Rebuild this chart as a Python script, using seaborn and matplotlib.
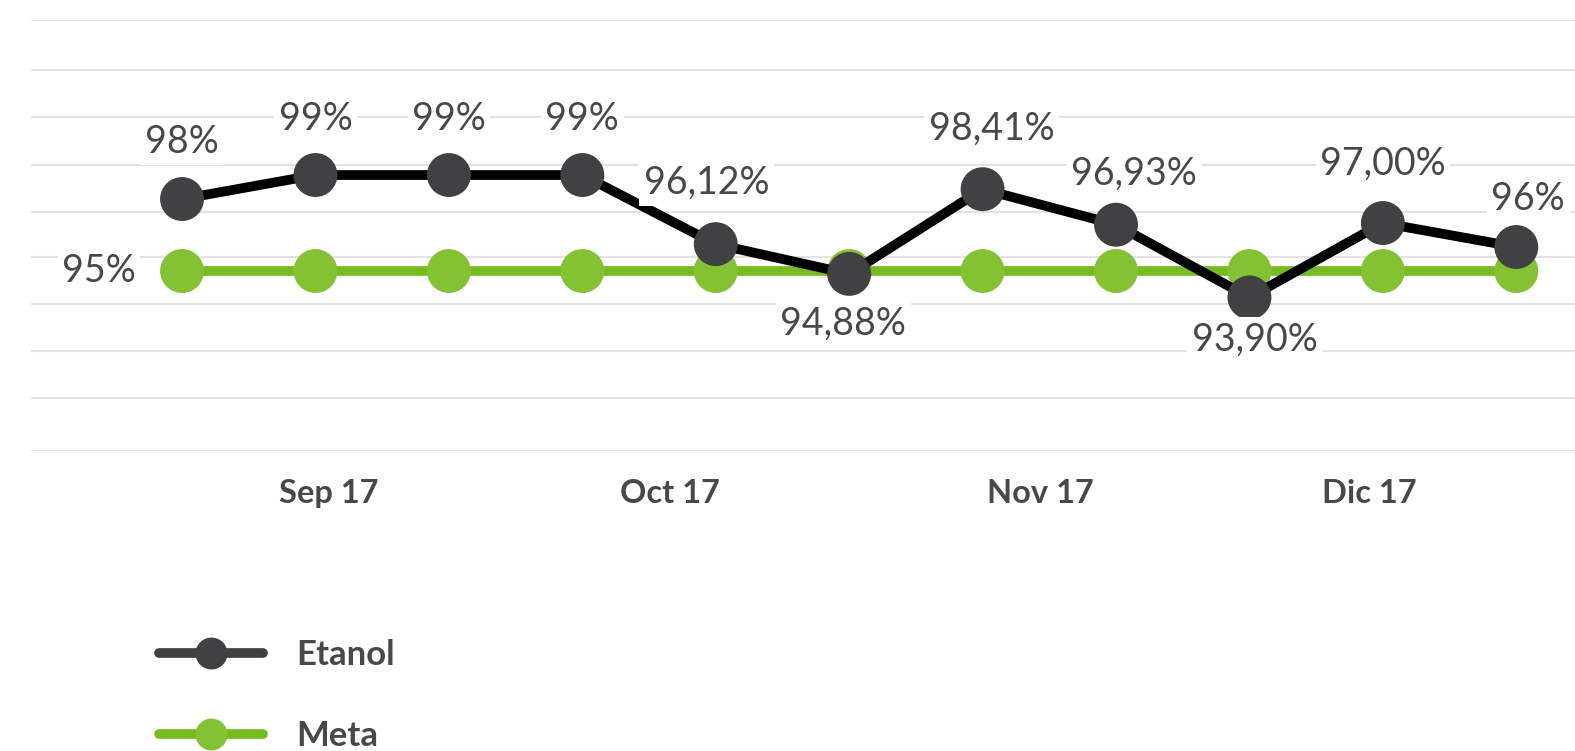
import pandas as pd
import matplotlib.pyplot as plt
import seaborn as sns
from matplotlib.lines import Line2D

# ----------------------------------------
# Data
# ----------------------------------------

periodos = list(range(11))
etanol = [98, 99, 99, 99, 96.12, 94.88, 98.41, 96.93, 93.90, 97.00, 96]
etiquetas_etanol = ["98%", "99%", "99%", "99%", "96,12%", "94,88%",
                    "98,41%", "96,93%", "93,90%", "97,00%", "96%"]
meta = [95, 95, 95, 95, 95, 95, 95, 95, 95, 95, 95]
etiqueta_meta = "95%"
meses = ["Sep 17", "Oct 17", "Nov 17", "Dic 17"]
pos_meses = [1.10, 3.66, 6.43, 8.90]
niveles_grid = [87.5, 89.71, 91.67, 93.63, 95.58, 97.46, 99.42, 101.42, 103.38, 105.46]

# label placement (pixels from the point)
desp_x = [0, 0, 0, 0, -9, -6, 9, 18, 5, 0, 12]
desp_y = [57, 56, 56, 56, 61, -50, 60, 51, -42, 59, 48]

df = pd.DataFrame({
    "periodo": periodos * 2,
    "valor": etanol + meta,
    "serie": ["Etanol"] * len(periodos) + ["Meta"] * len(periodos),
})

# ----------------------------------------
# Plot
# ----------------------------------------

sns.set_style("white")
plt.rcParams["font.family"] = ["Lato", "DejaVu Sans"]

gris = "#414143"
texto = "#48484a"
verde_linea = "#76bc21"
verde_punto = "#84c234"

fig = plt.figure(figsize=(15.75, 7.51), dpi=100)
ax = fig.add_axes([31 / 1575, 300 / 751, 1 - 31 / 1575, 431 / 751])

for y in niveles_grid:
    ax.axhline(y, color="#e2e2e2", lw=1.5, zorder=0)

meta_df = df[df["serie"] == "Meta"]
eta_df = df[df["serie"] == "Etanol"]

sns.lineplot(data=meta_df, x="periodo", y="valor", color=verde_linea, lw=7, ax=ax, zorder=2)
sns.scatterplot(data=meta_df, x="periodo", y="valor", color=verde_punto, s=1000,
                edgecolor="none", ax=ax, zorder=3)
sns.lineplot(data=eta_df, x="periodo", y="valor", color="black", lw=7, ax=ax, zorder=4)
sns.scatterplot(data=eta_df, x="periodo", y="valor", color=gris, s=1000,
                edgecolor="none", ax=ax, zorder=5)

caja = dict(boxstyle="square,pad=0.12", fc="white", ec="none")
for i, (x, y) in enumerate(zip(periodos, etanol)):
    ax.annotate(etiquetas_etanol[i], (x, y), xytext=(desp_x[i], desp_y[i]),
                textcoords="offset pixels", ha="center", va="center",
                fontsize=27, fontweight="normal", color=texto, bbox=caja, zorder=6)

ax.annotate(etiqueta_meta, (periodos[0], meta[0]), xytext=(-83, 0),
            textcoords="offset pixels", ha="center", va="center",
            fontsize=27, fontweight="normal", color=texto, bbox=caja, zorder=6)

ax.set_xlim(-1.132, 10.44)
ax.set_ylim(niveles_grid[0], niveles_grid[-1])
ax.set_xticks(pos_meses)
ax.set_xticklabels(meses, fontsize=23.5, fontweight="bold", color=texto)
ax.tick_params(axis="x", length=0, pad=20.5)
ax.set_yticks([])
ax.set_xlabel("")
ax.set_ylabel("")
sns.despine(ax=ax, left=True, bottom=True, top=True, right=True)

handles = [
    Line2D([], [], color=gris, lw=7, marker="o", markersize=23,
           markerfacecolor=gris, markeredgecolor="none", solid_capstyle="round"),
    Line2D([], [], color=verde_linea, lw=7, marker="o", markersize=23,
           markerfacecolor=verde_punto, markeredgecolor="none", solid_capstyle="round"),
]
leg = fig.legend(handles, ["Etanol", "Meta"], loc="upper left",
                 bbox_to_anchor=(128 / 1575, 1 - 608 / 751), frameon=False,
                 handlelength=3.0, handletextpad=0.95, labelspacing=1.4,
                 prop={"size": 25, "weight": "bold"})
for t in leg.get_texts():
    t.set_color(texto)

fig.savefig("out.png", dpi=100)
